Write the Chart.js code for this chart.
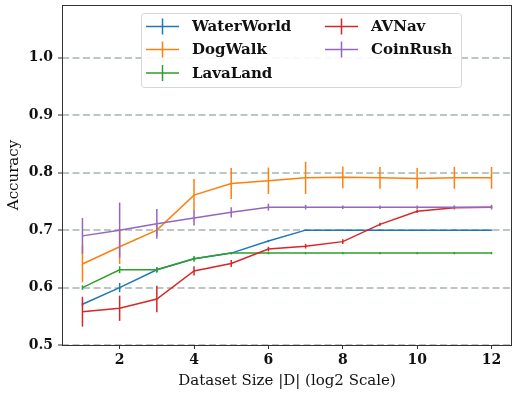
<!DOCTYPE html>
<html>
<head>
<meta charset="utf-8">
<script src="https://cdn.jsdelivr.net/npm/chart.js@4"></script>
<style>
    html, body { margin: 0; padding: 0; background: #fff; }
    #wrap { width: 513px; height: 393px; }
</style>
</head>
<body>
<div id="wrap"><canvas id="accChart" width="513" height="393"></canvas></div>
<script>
// Data
const sizes = [1, 2, 3, 4, 5, 6, 7, 8, 9, 10, 11, 12];
const xTicks = [2, 4, 6, 8, 10, 12];
const yTicks = [0.5, 0.6, 0.7, 0.8, 0.9, 1.0];

const seriesNames = ['WaterWorld', 'DogWalk', 'LavaLand', 'AVNav', 'CoinRush'];
const seriesColors = ['#1f77b4', '#ff7f0e', '#2ca02c', '#d62728', '#9467bd'];

const waterWorld = [0.571, 0.600, 0.631, 0.650, 0.660, 0.681, 0.700, 0.700, 0.700, 0.700, 0.700, 0.700];
const waterWorldErr = [0.003, 0.008, 0.004, 0.003, 0.002, 0.002, 0.001, 0.001, 0.001, 0.001, 0.001, 0.001];
const dogWalk = [0.641, 0.671, 0.700, 0.761, 0.781, 0.786, 0.791, 0.792, 0.791, 0.790, 0.791, 0.791];
const dogWalkErr = [0.032, 0.030, 0.010, 0.028, 0.027, 0.023, 0.028, 0.019, 0.019, 0.018, 0.019, 0.019];
const lavaLand = [0.600, 0.631, 0.631, 0.650, 0.660, 0.660, 0.660, 0.660, 0.660, 0.660, 0.660, 0.660];
const lavaLandErr = [0.004, 0.006, 0.005, 0.005, 0.002, 0.002, 0.002, 0.002, 0.002, 0.002, 0.002, 0.002];
const avNav = [0.558, 0.564, 0.580, 0.629, 0.642, 0.667, 0.672, 0.680, 0.710, 0.733, 0.739, 0.740];
const avNavErr = [0.026, 0.022, 0.023, 0.008, 0.006, 0.004, 0.004, 0.004, 0.003, 0.003, 0.003, 0.002];
const coinRush = [0.690, 0.700, 0.711, 0.721, 0.731, 0.740, 0.740, 0.740, 0.740, 0.740, 0.740, 0.740];
const coinRushErr = [0.031, 0.048, 0.026, 0.013, 0.009, 0.006, 0.004, 0.003, 0.003, 0.003, 0.003, 0.004];

const seriesValues = [waterWorld, dogWalk, lavaLand, avNav, coinRush];
const seriesErrors = [waterWorldErr, dogWalkErr, lavaLandErr, avNavErr, coinRushErr];

const serif = "'DejaVu Serif', 'Liberation Serif', serif";

/**
 * Vertical error bars, drawn right after each dataset's line
 */
const errorBarPlugin = {
    id: 'errorBars',
    afterDatasetDraw(chart, args) {
        const ds = chart.data.datasets[args.index];
        if (!ds.errors) return;
        const ctx = chart.ctx;
        const xs = chart.scales.x;
        const ys = chart.scales.y;
        ctx.save();
        ctx.strokeStyle = ds.borderColor;
        ctx.lineWidth = 1.5;
        ds.data.forEach((pt, i) => {
            const px = xs.getPixelForValue(pt.x);
            ctx.beginPath();
            ctx.moveTo(px, ys.getPixelForValue(pt.y - ds.errors[i]));
            ctx.lineTo(px, ys.getPixelForValue(pt.y + ds.errors[i]));
            ctx.stroke();
        });
        ctx.restore();
    }
};

/**
 * Axes frame plus a matplotlib-like legend box (column-major, 2 columns)
 */
const frameLegendPlugin = {
    id: 'frameLegend',
    afterDraw(chart) {
        const ctx = chart.ctx;
        const a = chart.chartArea;
        ctx.save();
        ctx.strokeStyle = '#333';
        ctx.lineWidth = 1;
        ctx.strokeRect(Math.round(a.left) + 0.5, Math.round(a.top) + 0.5,
            Math.round(a.right - a.left) - 1, Math.round(a.bottom - a.top));

        // Legend box
        const bx = 141.5, by = 13.5, bw = 320, bh = 74, r = 3;
        ctx.beginPath();
        ctx.moveTo(bx + r, by);
        ctx.arcTo(bx + bw, by, bx + bw, by + bh, r);
        ctx.arcTo(bx + bw, by + bh, bx, by + bh, r);
        ctx.arcTo(bx, by + bh, bx, by, r);
        ctx.arcTo(bx, by, bx + bw, by, r);
        ctx.closePath();
        ctx.fillStyle = 'rgba(255,255,255,0.9)';
        ctx.fill();
        ctx.strokeStyle = '#d6d6d6';
        ctx.stroke();

        ctx.font = "bold 15px " + serif;
        ctx.textBaseline = 'middle';
        ctx.textAlign = 'left';
        const colX = [146, 325];
        const rowY = [26.5, 49.5, 73];
        chart.data.datasets.forEach((ds, i) => {
            const col = Math.floor(i / 3);
            const row = i % 3;
            const x0 = colX[col];
            const y0 = rowY[row];
            ctx.strokeStyle = ds.borderColor;
            ctx.lineWidth = 1.5;
            ctx.beginPath();
            ctx.moveTo(x0, y0);
            ctx.lineTo(x0 + 33, y0);
            ctx.moveTo(x0 + 16.5, y0 - 8);
            ctx.lineTo(x0 + 16.5, y0 + 8);
            ctx.stroke();
            ctx.fillStyle = '#111';
            ctx.fillText(ds.label, x0 + 46, y0 + 1);
        });
        ctx.restore();
    }
};

const datasets = seriesNames.map((name, i) => ({
    label: name,
    data: sizes.map((s, j) => ({ x: s, y: seriesValues[i][j] })),
    errors: seriesErrors[i],
    borderColor: seriesColors[i],
    backgroundColor: seriesColors[i],
    borderWidth: 1.5,
    pointRadius: 0,
    tension: 0,
    order: seriesNames.length - i
}));

new Chart(document.getElementById('accChart'), {
    type: 'line',
    data: { datasets: datasets },
    options: {
        responsive: false,
        animation: false,
        events: [],
        layout: { padding: { top: 5, right: 1, left: 0, bottom: 0 } },
        plugins: {
            legend: { display: false },
            tooltip: { enabled: false }
        },
        scales: {
            x: {
                type: 'linear',
                min: 0.45,
                max: 12.55,
                afterBuildTicks: scale => { scale.ticks = xTicks.map(v => ({ value: v })); },
                afterFit: scale => {
                    scale.height = 48;
                    scale.paddingLeft = 0;
                    scale.paddingRight = 0;
                },
                grid: {
                    drawOnChartArea: false,
                    tickLength: 4,
                    tickColor: '#333',
                    tickWidth: 1
                },
                border: { display: false },
                ticks: {
                    padding: 3,
                    maxRotation: 0,
                    color: '#111',
                    font: { family: serif, size: 14, weight: 'bold' }
                },
                title: {
                    display: true,
                    text: 'Dataset Size |D| (log2 Scale)',
                    color: '#111',
                    padding: { top: 3, bottom: 3 },
                    font: { family: serif, size: 15 }
                }
            },
            y: {
                type: 'linear',
                min: 0.5,
                max: 1.092,
                afterBuildTicks: scale => { scale.ticks = yTicks.map(v => ({ value: v })); },
                afterFit: scale => {
                    scale.width = 62;
                    scale.paddingTop = 0;
                    scale.paddingBottom = 0;
                },
                grid: {
                    color: 'rgba(170,185,185,0.8)',
                    lineWidth: 2,
                    tickLength: 4,
                    tickColor: '#333',
                    tickWidth: 1,
                    tickBorderDash: []
                },
                border: { display: false, dash: [7, 3.5] },
                ticks: {
                    padding: 5,
                    color: '#111',
                    callback: v => v.toFixed(1),
                    font: { family: serif, size: 14, weight: 'bold' }
                },
                title: {
                    display: true,
                    text: 'Accuracy',
                    color: '#111',
                    padding: { top: 5, bottom: 5 },
                    font: { family: serif, size: 15 }
                }
            }
        }
    },
    plugins: [errorBarPlugin, frameLegendPlugin]
});
</script>
</body>
</html>
